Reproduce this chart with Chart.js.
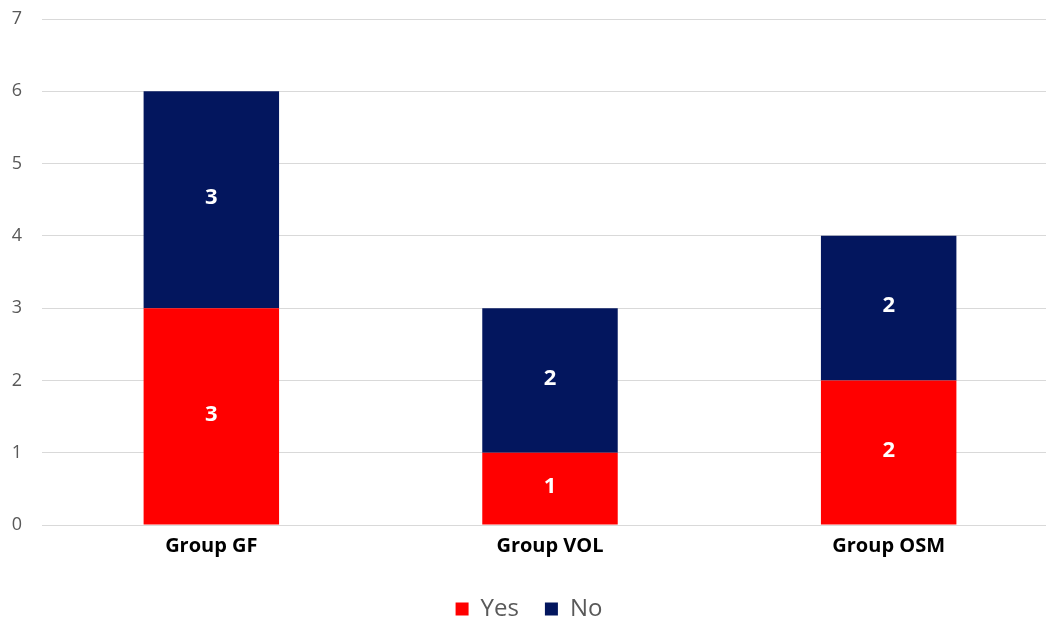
<!DOCTYPE html>
<html>
<head>
<meta charset="utf-8">
<script src="https://cdn.jsdelivr.net/npm/chart.js@4"></script>
<style>
  html, body { margin: 0; padding: 0; background: #fff; overflow: hidden; }
  #wrap { position: relative; width: 1058px; height: 631px; }
</style>
</head>
<body>
<div id="wrap"><canvas id="c"></canvas></div>
<script>
const categories = ['Group GF', 'Group VOL', 'Group OSM'];
const yesValues = [3, 1, 2];
const noValues = [3, 2, 2];
const yTicks = [0, 1, 2, 3, 4, 5, 6, 7];

const FONT = '"Open Sans", "Liberation Sans", sans-serif';

// Writes each segment's value in the middle of its bar
const segmentLabels = {
  id: 'segmentLabels',
  afterDatasetsDraw(chart) {
    const ctx = chart.ctx;
    ctx.save();
    ctx.fillStyle = '#ffffff';
    ctx.font = 'bold 22px ' + FONT;
    ctx.textAlign = 'center';
    ctx.textBaseline = 'middle';
    chart.data.datasets.forEach((ds, i) => {
      chart.getDatasetMeta(i).data.forEach((bar, j) => {
        const v = ds.data[j];
        if (!v) return;
        const p = bar.getProps(['x', 'y', 'base'], true);
        ctx.fillText(String(v), p.x, (p.y + p.base) / 2 - 2);
      });
    });
    ctx.restore();
  }
};

new Chart(document.getElementById('c'), {
  type: 'bar',
  data: {
    labels: categories,
    datasets: [
      { label: 'Yes', data: yesValues, backgroundColor: '#ff0000', borderWidth: 0 },
      { label: 'No', data: noValues, backgroundColor: '#03165e', borderWidth: 0 }
    ]
  },
  options: {
    responsive: true,
    maintainAspectRatio: false,
    animation: false,
    layout: { padding: { left: 0, top: 19, right: 0, bottom: 0 } },
    datasets: { bar: { barPercentage: 1, categoryPercentage: 0.4 } },
    scales: {
      x: {
        stacked: true,
        grid: { display: false, drawTicks: false },
        border: { display: false },
        afterFit(axis) {
          axis.height = 46;
          axis.paddingLeft = 0;
          axis.paddingRight = 0;
        },
        ticks: {
          color: '#000000',
          padding: 9,
          font: { family: FONT, size: 20, weight: 'bold' }
        }
      },
      y: {
        stacked: true,
        min: 0,
        max: 7,
        afterBuildTicks(axis) { axis.ticks = yTicks.map(v => ({ value: v })); },
        afterFit(axis) {
          axis.width = 42;
          axis.paddingTop = 0;
          axis.paddingBottom = 0;
        },
        grid: { color: '#d9d9d9', lineWidth: 1, drawTicks: false },
        border: { display: false },
        ticks: {
          color: '#595959',
          padding: 20,
          font: { family: FONT, size: 18 }
        }
      }
    },
    plugins: {
      tooltip: { enabled: false },
      legend: {
        position: 'bottom',
        labels: {
          color: '#595959',
          boxWidth: 13,
          boxHeight: 13,
          padding: 26,
          font: { family: FONT, size: 24 }
        }
      }
    }
  },
  plugins: [segmentLabels]
});
</script>
</body>
</html>
